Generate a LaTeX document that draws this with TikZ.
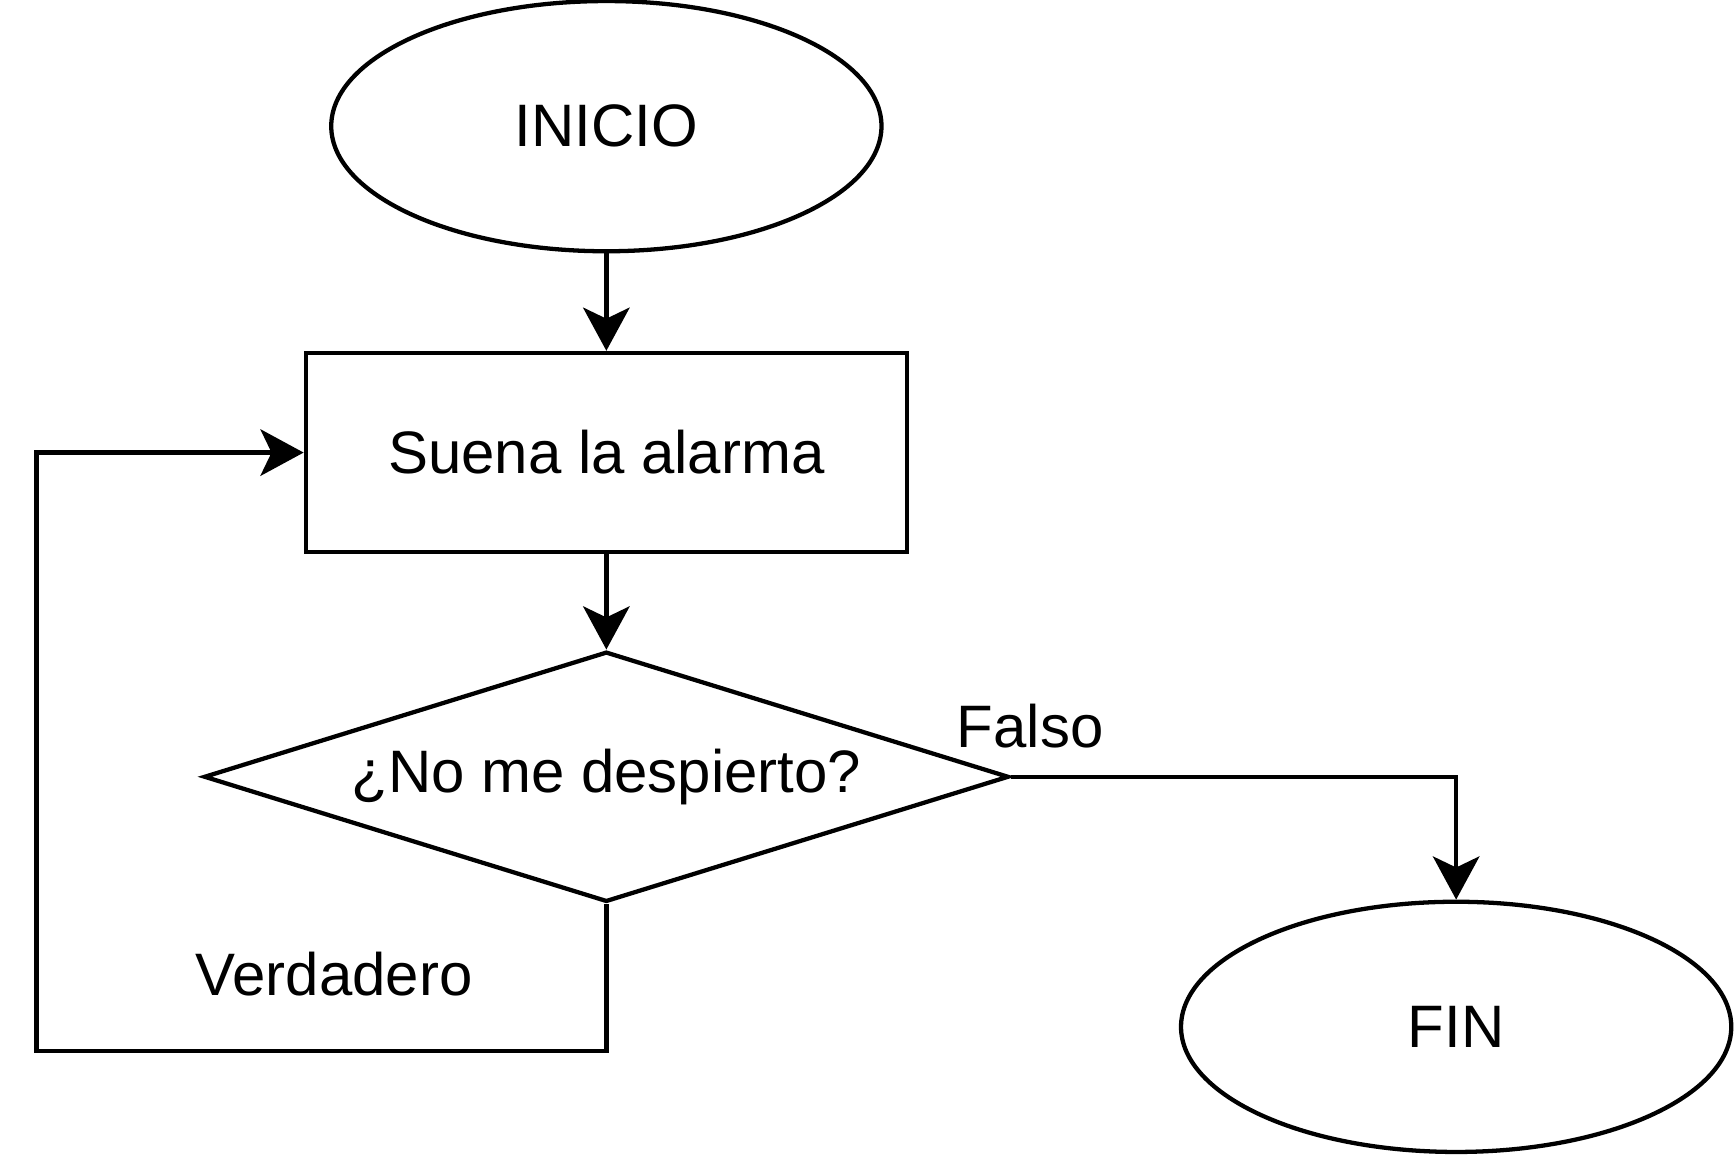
\documentclass[tikz,border=0pt]{standalone}
\usepackage{fontspec}
\setmainfont{Liberation Sans}
\usetikzlibrary{shapes.geometric,arrows.meta}
\begin{document}
\begin{tikzpicture}[x=0.01cm,y=-0.01cm,line width=1.1pt,every path/.style={>={Stealth[length=0.39cm,width=0.42cm,inset=0.1cm]}},every node/.style={font=\fontsize{15.4}{18}\selectfont},
  term/.style={draw,ellipse,minimum width=4.97cm,minimum height=2.26cm,inner sep=0pt},
  proc/.style={draw,rectangle,minimum width=5.43cm,minimum height=1.8cm},
  cond/.style={draw,diamond,aspect=3.217,minimum width=7.27cm,minimum height=2.26cm,inner sep=0pt}]
\useasboundingbox (0,0) rectangle (1568,1044);
\node[term] (inicio) at (548,114) {INICIO};
\node[proc] (alarma) at (548,409) {Suena la alarma};
\node[cond] (despierto) at (548,702) {¿No me despierto?};
\node[term] (fin) at (1316,928) {FIN};
\node (falso) at (931,656) {Falso};
\node (verdadero) at (302,880) {Verdadero};
\coordinate (loop-corner) at (33,950);

\draw[->] (inicio) -- (alarma);
\draw[->] (alarma) -- (despierto);
\draw[->] (despierto.east) -| (fin.north);
\draw[->] (despierto.south) |- (loop-corner) |- (alarma.west);
\end{tikzpicture}
\end{document}
